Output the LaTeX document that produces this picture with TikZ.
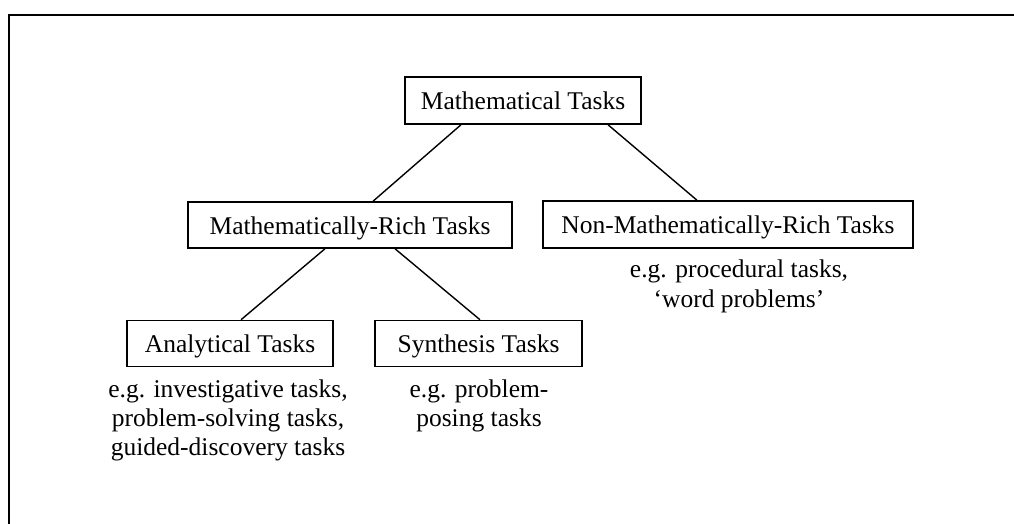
\documentclass[tikz,border=0pt]{standalone}
\usepackage{fontspec}
\setmainfont{Liberation Serif}
\begin{document}
\begin{tikzpicture}[x=1pt,y=-1pt,
  taskbox/.style={draw, line width=1.5pt, inner sep=0pt, minimum height=46pt,
    text height=21pt, text depth=3pt, font=\fontsize{25.5}{29.3}\selectfont},
  example/.style={anchor=north, inner sep=0pt, align=center,
    font=\fontsize{25.5}{29.3}\selectfont},
  link/.style={line width=1.4pt}]
\useasboundingbox (0,0) rectangle (1014,524);
\draw[line width=2.6pt] (1020,15) -- (9,15) -- (9,530);
\node[taskbox, minimum width=236pt, minimum height=47pt] (MT) at (523,100.5) {Mathematical Tasks};
\node[taskbox, minimum width=324pt] (MR) at (350,225) {Mathematically-Rich Tasks};
\node[taskbox, minimum width=370pt, minimum height=47pt] (NM) at (728,224.5) {Non-Mathematically-Rich Tasks};
\node[taskbox, minimum width=206pt] (AN) at (230,343.5) {Analytical Tasks};
\node[taskbox, minimum width=207pt] (SY) at (478.5,343.5) {Synthesis Tasks};
\draw[link] ([xshift=-62pt]MT.south) -- ([xshift=23pt]MR.north);
\draw[link] ([xshift=85pt]MT.south) -- ([xshift=-31pt]NM.north);
\draw[link] ([xshift=-25pt]MR.south) -- ([xshift=11pt]AN.north);
\draw[link] ([xshift=45pt]MR.south) -- ([xshift=1.5pt]SY.north);
\node[example] (NMx) at (739,260) {e.g. procedural tasks,\\`word problems'};
\node[example] (ANx) at (228,379.3) {e.g. investigative tasks,\\problem-solving tasks,\\guided-discovery tasks};
\node[example] (SYx) at (479,379.3) {e.g. problem-\\posing tasks};
\end{tikzpicture}
\end{document}
